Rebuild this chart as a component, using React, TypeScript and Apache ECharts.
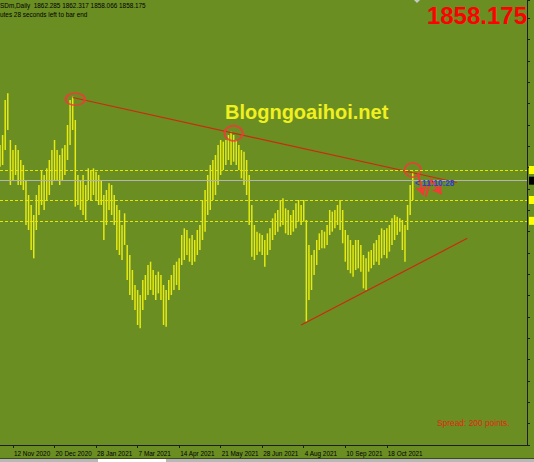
import { useEffect, useRef } from 'react';
import * as echarts from 'echarts';

// ---- data ----
const tickLabels = ['12 Nov 2020', '20 Dec 2020', '28 Jan 2021', '7 Mar 2021', '14 Apr 2021', '21 May 2021', '28 Jun 2021', '4 Aug 2021', '10 Sep 2021', '18 Oct 2021'];
const tickFirstIndex = 5;
const tickStep = 16;
const categoryCount = 204;

const highs = [
  1901, 1913, 1955, 1963, 1907, 1895, 1901, 1895, 1883, 1877,
  1859, 1841, 1829, 1817, 1841, 1853, 1871, 1865, 1873, 1883,
  1895, 1907, 1895, 1889, 1897, 1901, 1925, 1955, 1959, 1931,
  1865, 1859, 1865, 1853, 1873, 1871, 1873, 1869, 1865, 1859,
  1841, 1847, 1855, 1853, 1841, 1829, 1823, 1805, 1819, 1781,
  1769, 1751, 1733, 1727, 1721, 1739, 1745, 1757, 1761, 1751,
  1745, 1749, 1745, 1733, 1727, 1739, 1745, 1757, 1761, 1765,
  1793, 1801, 1799, 1789, 1793, 1787, 1799, 1805, 1835, 1847,
  1865, 1877, 1883, 1889, 1901, 1907, 1905, 1907, 1913, 1917,
  1913, 1907, 1901, 1895, 1893, 1883, 1865, 1829, 1805, 1797,
  1795, 1793, 1787, 1795, 1801, 1813, 1819, 1823, 1835, 1837,
  1825, 1823, 1817, 1823, 1831, 1835, 1829, 1835, 1811, 1781,
  1769, 1775, 1787, 1795, 1799, 1797, 1805, 1823, 1821, 1823,
  1829, 1835, 1823, 1799, 1793, 1787, 1781, 1787, 1787, 1781,
  1769, 1765, 1773, 1775, 1783, 1787, 1793, 1801, 1799, 1801,
  1805, 1813, 1817, 1815, 1813, 1811, 1805, 1829, 1853, 1869,
];
const lows = [
  1875, 1877, 1895, 1919, 1853, 1859, 1865, 1853, 1853, 1847,
  1805, 1799, 1775, 1765, 1799, 1817, 1829, 1823, 1835, 1841,
  1853, 1859, 1859, 1853, 1859, 1865, 1883, 1901, 1919, 1827,
  1829, 1823, 1817, 1811, 1835, 1835, 1841, 1835, 1829, 1829,
  1787, 1805, 1823, 1817, 1805, 1775, 1769, 1763, 1781, 1739,
  1721, 1715, 1703, 1685, 1681, 1703, 1715, 1721, 1727, 1721,
  1715, 1723, 1715, 1685, 1683, 1715, 1721, 1727, 1733, 1727,
  1757, 1763, 1769, 1761, 1757, 1761, 1769, 1775, 1787, 1797,
  1817, 1823, 1835, 1841, 1853, 1865, 1871, 1877, 1883, 1877,
  1881, 1877, 1871, 1861, 1853, 1841, 1805, 1767, 1763, 1769,
  1773, 1769, 1755, 1769, 1775, 1787, 1793, 1797, 1803, 1805,
  1795, 1793, 1793, 1797, 1801, 1809, 1805, 1809, 1689, 1715,
  1727, 1745, 1757, 1775, 1777, 1777, 1781, 1793, 1797, 1801,
  1805, 1799, 1783, 1761, 1751, 1747, 1743, 1751, 1753, 1749,
  1729, 1727, 1749, 1753, 1757, 1761, 1757, 1765, 1769, 1765,
  1773, 1781, 1787, 1793, 1797, 1775, 1761, 1799, 1817, 1835,
];

const resistanceLine = [[28, 1958], [176, 1856]];
const supportLine = [[116, 1685], [180, 1789]];
const circledPeaks = [[29, 1956], [90, 1915], [159, 1871]];
const arrowSegments = [
  [[161, 1867], [163, 1841]],
  [[164, 1839], [166, 1859]],
  [[166, 1860], [170, 1842]],
];
const levelPrices = [1871, 1835, 1810];
const bidPrice = 1858.175;
const ohlc = ['1862.285', '1862.317', '1858.066', '1858.175'];
const countdown = '< 11:10:28';
const spreadText = 'Spread: 200 points.';
const watermark = 'Blogngoaihoi.net';

const categories = Array.from({ length: categoryCount }, (_, i) =>
  i >= tickFirstIndex && (i - tickFirstIndex) % tickStep === 0
    ? tickLabels[(i - tickFirstIndex) / tickStep] ?? ''
    : ''
);

const BG = '#6b8e23';
const BAR = '#e4ea12';
const TREND = '#cc2a10';
const MARK = '#f23a36';
const FONT = '"Liberation Sans", Arial, sans-serif';

const priceBox = (bg: string) => ({
  show: true,
  position: 'end',
  distance: 2,
  formatter: '{b|}',
  rich: { b: { width: 10, height: 8, backgroundColor: bg } },
});

export default function App() {
  const ref = useRef<HTMLDivElement>(null);
  useEffect(() => {
    document.body.style.margin = '0';
    if (!ref.current) return;
    const chart = echarts.init(ref.current, undefined, { renderer: 'svg' });
    const circleSizes = [[19, 12], [18, 15], [16, 14]];
    const option: any = {
      animation: false,
      backgroundColor: BG,
      grid: { left: 0, right: 7, top: 0, bottom: 17 },
      xAxis: {
        type: 'category',
        data: categories,
        boundaryGap: false,
        axisLine: { show: true, lineStyle: { color: '#1e1e1e', width: 1 } },
        axisTick: {
          show: true,
          length: 3,
          interval: (i: number, v: string) => v !== '',
          lineStyle: { color: '#1e1e1e' },
        },
        axisLabel: {
          interval: (i: number, v: string) => v !== '',
          align: 'left',
          verticalAlign: 'middle',
          margin: 8,
          fontSize: 6.4,
          fontFamily: FONT,
          color: '#000',
          padding: [0, 0, 0, 1],
        },
        splitLine: { show: false },
      },
      yAxis: {
        type: 'value',
        position: 'right',
        min: 1541,
        max: 2075,
        interval: 25.6,
        axisLine: { show: true, lineStyle: { color: '#1e1e1e', width: 1 } },
        axisTick: { show: true, length: 3, lineStyle: { color: '#1e1e1e' } },
        axisLabel: { show: false },
        splitLine: { show: false },
      },
      series: [
        {
          type: 'custom',
          clip: true,
          silent: true,
          data: highs.map((h, i) => [i, h, lows[i]]),
          encode: { x: 0, y: [1, 2] },
          renderItem: (params: any, api: any) => {
            const top = api.coord([api.value(0), api.value(1)]);
            const bot = api.coord([api.value(0), api.value(2)]);
            return {
              type: 'line',
              shape: { x1: top[0], y1: top[1], x2: bot[0], y2: bot[1] },
              style: { stroke: BAR, lineWidth: 1.5 },
            };
          },
          markLine: {
            silent: true,
            symbol: ['none', 'none'],
            data: [
              ...levelPrices.map((p) => ({
                yAxis: p,
                lineStyle: { color: '#e6e600', type: [3, 2], width: 1 },
                label: priceBox('#ffff00'),
              })),
              {
                yAxis: bidPrice,
                lineStyle: { color: '#b4b4b4', type: 'solid', width: 1 },
                label: priceBox('#000000'),
              },
            ],
          },
        },
        {
          type: 'line',
          silent: true,
          symbol: 'none',
          data: resistanceLine,
          lineStyle: { color: TREND, width: 1.2 },
          z: 3,
        },
        {
          type: 'line',
          silent: true,
          symbol: 'none',
          data: supportLine,
          lineStyle: { color: TREND, width: 1.2 },
          z: 3,
          markLine: {
            silent: true,
            symbolSize: 9,
            label: { show: false },
            lineStyle: { color: MARK, width: 2, type: 'solid' },
            data: arrowSegments.map((seg, k) => [
              { coord: seg[0], symbol: 'none' },
              { coord: seg[1], symbol: k === 1 ? 'none' : 'arrow' },
            ]),
          },
        },
        {
          type: 'scatter',
          silent: true,
          z: 4,
          data: circledPeaks.map((c, k) => ({ value: c, symbolSize: circleSizes[k] })),
          symbol: 'circle',
          itemStyle: { color: 'rgba(0,0,0,0)', borderColor: MARK, borderWidth: 2 },
        },
      ],
      graphic: [
        {
          type: 'text', silent: true, x: 0, y: 5,
          style: { text: `SDm,Daily  ${ohlc.join(' ')}`, fill: '#000', fontSize: 6.4, fontFamily: FONT, textAlign: 'left', textVerticalAlign: 'middle' },
        },
        {
          type: 'text', silent: true, x: 0, y: 14.2,
          style: { text: 'utes 28 seconds left to bar end', fill: '#000', fontSize: 6.4, fontFamily: FONT, textAlign: 'left', textVerticalAlign: 'middle' },
        },
        {
          type: 'text', silent: true, x: 527, y: 15.5,
          style: { text: ohlc[3], fill: '#ff0000', fontSize: 24, fontWeight: 'bold', fontFamily: FONT, textAlign: 'right', textVerticalAlign: 'middle' },
        },
        {
          type: 'text', silent: true, x: 225, y: 111.5,
          style: { text: watermark, fill: '#f0f020', fontSize: 20, fontWeight: 'bold', fontFamily: FONT, textAlign: 'left', textVerticalAlign: 'middle' },
        },
        {
          type: 'text', silent: true, x: 415, y: 183.5, z: 10,
          style: { text: countdown, fill: '#3040c8', fontSize: 8.2, fontWeight: 'bold', fontFamily: FONT, textAlign: 'left', textVerticalAlign: 'middle' },
        },
        {
          type: 'text', silent: true, x: 437, y: 422.5,
          style: { text: spreadText, fill: '#e0280e', fontSize: 8.4, fontFamily: FONT, textAlign: 'left', textVerticalAlign: 'middle' },
        },
        {
          type: 'polygon', silent: true,
          shape: { points: [[414, 0], [420, 0], [417, 3]] },
          style: { fill: '#c8c8c8' },
        },
        { type: 'rect', silent: true, shape: { x: 0, y: 458, width: 534, height: 1 }, style: { fill: '#3c4a1c' } },
        { type: 'rect', silent: true, shape: { x: 0, y: 459, width: 534, height: 3 }, style: { fill: '#b8b8b8' } },
        { type: 'rect', silent: true, shape: { x: 98, y: 459, width: 68, height: 3 }, style: { fill: '#ffffff' } },
      ],
    };
    chart.setOption(option);
    return () => chart.dispose();
  }, []);
  return <div ref={ref} style={{ position: 'fixed', left: 0, top: 0, width: 534, height: 462 }} />;
}
